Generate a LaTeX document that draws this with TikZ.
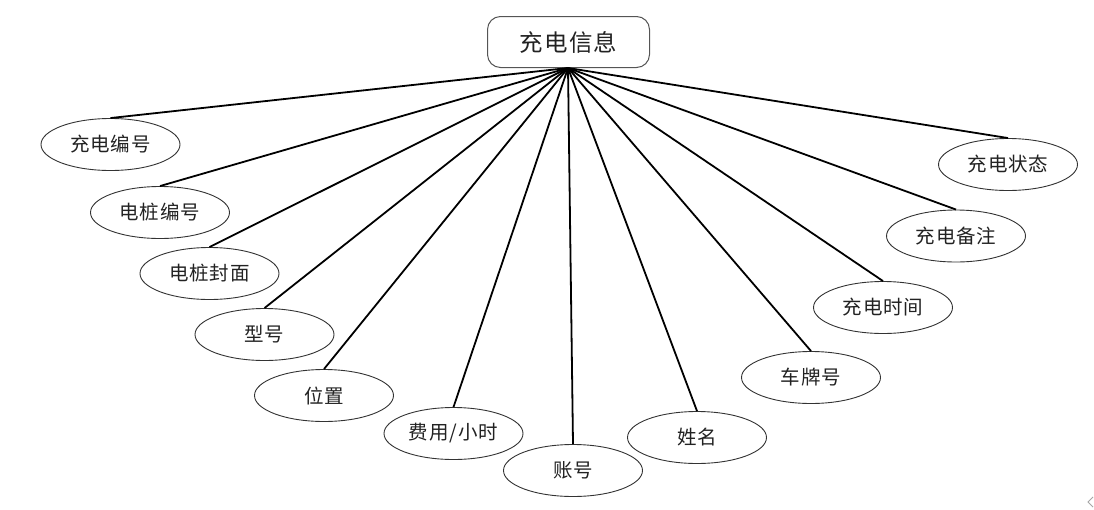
\documentclass[tikz,border=0pt]{standalone}
\usepackage{fontspec}
\newfontfamily\cjk[LetterSpace=5]{Noto Sans CJK SC}
\usetikzlibrary{shapes.geometric}
\definecolor{edgegray}{HTML}{333333}
\definecolor{boxgray}{HTML}{555555}
\definecolor{txt}{HTML}{222222}
\tikzset{
  attr/.style={ellipse, draw=edgegray, line width=0.9pt, minimum width=139pt, minimum height=52pt, inner sep=0pt,
    font=\cjk\fontsize{19.5}{21}\selectfont, text=txt},
  entity/.style={rectangle, rounded corners=13pt, draw=boxgray, line width=1pt, minimum width=162pt, minimum height=51pt,
    inner sep=0pt, font=\cjk\fontsize{23.5}{25}\selectfont, text=txt},
  link/.style={line width=1.8pt, black}
}
\begin{document}
\begin{tikzpicture}[x=1pt,y=-1pt]
\useasboundingbox (0,0) rectangle (1094,509);
\node[entity] (root) at (568.5,42) {充电信息};
\coordinate (hub) at (568,68);
\node[attr] (a1) at (110.5,144.5) {充电编号};
\node[attr] (a2) at (160,212.5) {电桩编号};
\node[attr] (a3) at (209.5,273.5) {电桩封面};
\node[attr] (a4) at (264.5,334.5) {型号};
\node[attr] (a5) at (324,395.5) {位置};
\node[attr] (a6) at (453.5,433.5) {费用/小时};
\node[attr] (a7) at (573,470.5) {账号};
\node[attr] (a8) at (697,437.5) {姓名};
\node[attr] (a9) at (811,377.5) {车牌号};
\node[attr] (a10) at (883,307.5) {充电时间};
\node[attr] (a11) at (956,236) {充电备注};
\node[attr] (a12) at (1008,164.5) {充电状态};
\foreach \n in {a1,a2,a3,a4,a5,a6,a7,a8,a9,a10,a11,a12}{
  \draw[link] (hub) -- (\n.north);
}
\draw[gray!70, line width=0.8pt] (1093,497) -- (1088,502) -- (1093,507);
\end{tikzpicture}
\end{document}
